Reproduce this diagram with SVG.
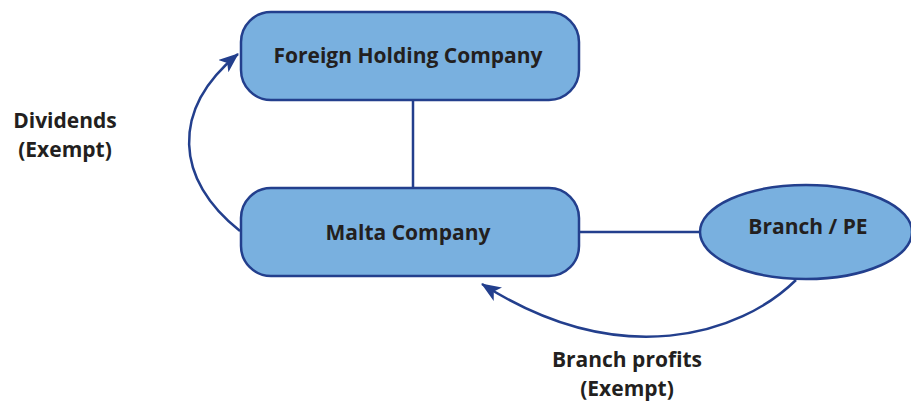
<svg xmlns="http://www.w3.org/2000/svg" width="911" height="402" viewBox="0 0 911 402">
<defs>
<style>
.node{fill:#79b0df;stroke:#233f8d;stroke-width:2.5}
.con{fill:none;stroke:#233f8d;stroke-width:2.5}
.t{font-family:"Open Sans","Liberation Sans",sans-serif;font-weight:bold;font-size:21px;fill:#231f20;text-anchor:middle}
</style>
<marker id="arr" viewBox="0 0 20 16" refX="19" refY="8" markerWidth="20" markerHeight="16" markerUnits="userSpaceOnUse" orient="auto">
<path d="M0,0 L20,8 L0,16 L5,8 z" fill="#233f8d"/>
</marker>
</defs>
<g id="connectors">
<line class="con" x1="413" y1="100" x2="413" y2="188"/>
<line class="con" x1="579" y1="232" x2="700" y2="232"/>
<path class="con" d="M240,231 C175,180 170,110 238,54" marker-end="url(#arr)"/>
<path class="con" d="M796,280 C740,335 620,372 482,284" marker-end="url(#arr)"/>
</g>
<g id="foreign">
<rect class="node" x="241" y="12" width="338" height="88" rx="30"/>
<text class="t" x="408" y="63">Foreign Holding Company</text>
</g>
<g id="malta">
<rect class="node" x="241" y="188" width="338" height="88" rx="30"/>
<text class="t" x="408" y="240">Malta Company</text>
</g>
<g id="branch">
<ellipse class="node" cx="806" cy="232" rx="106" ry="47"/>
<text class="t" x="808" y="234">Branch / PE</text>
</g>
<g id="labels">
<text class="t" x="65" y="128">Dividends</text>
<text class="t" x="65" y="157">(Exempt)</text>
<text class="t" x="627" y="367">Branch profits</text>
<text class="t" x="627" y="396">(Exempt)</text>
</g>
</svg>
